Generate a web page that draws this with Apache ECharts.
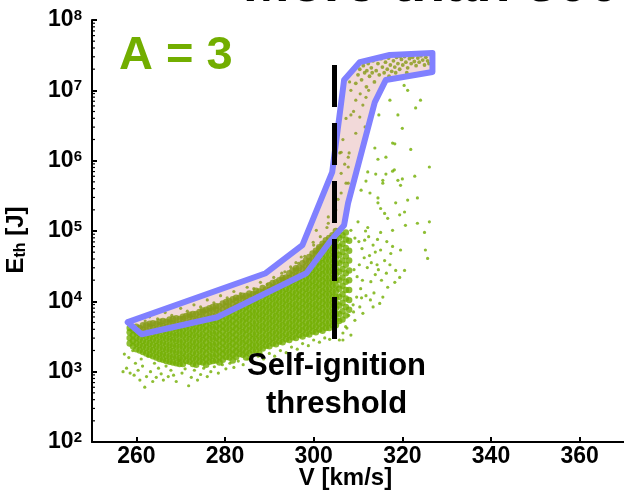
<!DOCTYPE html>
<html><head><meta charset="utf-8">
<script src="https://cdn.jsdelivr.net/npm/echarts/dist/echarts.min.js"></script>
<style>html,body{margin:0;padding:0;background:#fff}#c{width:624px;height:495px}</style>
</head><body><div id="c"></div>
<script>
// ---- tick labels / axes ----
const xTicks = [260, 280, 300, 320, 340, 360];
const minorMult = [2, 3, 4, 5, 6, 7, 8, 9];
const decades = [2, 3, 4, 5, 6, 7];

// ---- self-ignition threshold (dashed line) ----
const thresholdV = [304.7, 304.7];
const thresholdE = [2.29e7, 2.62e3];

// ---- envelope polygon ----
const envelopeV = [258.06, 289.18, 297.46, 304.18, 306.86, 310.44, 317.16, 326.79, 326.79, 316.26, 313.80, 307.76, 306.86, 303.95, 298.35, 278.21, 261.19];
const envelopeE = [5050, 25100, 62900, 6.87e5, 1.40e7, 2.52e7, 3.18e7, 3.39e7, 1.82e7, 1.40e7, 6.81e6, 2.49e5, 1.21e5, 74100, 25100, 5940, 3400];

// ---- runs: dense core [V, list of log10(E)] ----
const coreColsA = [
 [258.5,[3.40,3.48,3.56,3.62]],
 [260,[3.32,3.40,3.48,3.56,3.64]],
 [261.5,[3.28,3.36,3.44,3.52,3.60,3.66]],
 [263,[3.24,3.32,3.40,3.48,3.56,3.64,3.68]],
 [264.5,[3.20,3.28,3.36,3.44,3.52,3.60,3.68]],
 [266,[3.17,3.25,3.33,3.41,3.49,3.57,3.65,3.72]],
 [267.5,[3.14,3.22,3.30,3.38,3.46,3.54,3.62,3.70,3.74]],
 [269,[3.12,3.20,3.28,3.36,3.44,3.52,3.60,3.68,3.76]],
 [270.5,[3.11,3.19,3.27,3.35,3.43,3.51,3.59,3.67,3.75,3.78]],
 [272,[3.14,3.22,3.30,3.38,3.46,3.54,3.62,3.70,3.78,3.81]],
 [273.5,[3.10,3.18,3.26,3.34,3.42,3.50,3.58,3.66,3.74,3.82]],
 [275,[3.13,3.21,3.29,3.37,3.45,3.53,3.61,3.69,3.77,3.85,3.87]],
 [276.5,[3.14,3.22,3.30,3.38,3.46,3.54,3.62,3.70,3.78,3.86,3.90]],
 [278,[3.16,3.24,3.32,3.40,3.48,3.56,3.64,3.72,3.80,3.88,3.93]],
 [279.5,[3.17,3.25,3.33,3.41,3.49,3.57,3.65,3.73,3.81,3.89,3.97]],
 [281,[3.20,3.28,3.36,3.44,3.52,3.60,3.68,3.76,3.84,3.92,4.00]],
 [282.5,[3.21,3.29,3.37,3.45,3.53,3.61,3.69,3.77,3.85,3.93,4.01,4.05]],
 [284,[3.24,3.32,3.40,3.48,3.56,3.64,3.72,3.80,3.88,3.96,4.04,4.08]],
 [285.5,[3.26,3.34,3.42,3.50,3.58,3.66,3.74,3.82,3.90,3.98,4.06,4.11]],
 [287,[3.30,3.38,3.46,3.54,3.62,3.70,3.78,3.86,3.94,4.02,4.10,4.15]],
 [288.5,[3.33,3.41,3.49,3.57,3.65,3.73,3.81,3.89,3.97,4.05,4.13,4.19]],
 [290,[3.36,3.44,3.52,3.60,3.68,3.76,3.84,3.92,4.00,4.08,4.16,4.23]],
 [291.5,[3.39,3.47,3.55,3.63,3.71,3.79,3.87,3.95,4.03,4.11,4.19,4.27]],
 [293,[3.42,3.50,3.58,3.66,3.74,3.82,3.90,3.98,4.06,4.14,4.22,4.30,4.33]],
 [294.5,[3.45,3.53,3.61,3.69,3.77,3.85,3.93,4.01,4.09,4.17,4.25,4.33,4.40]],
 [296,[3.48,3.56,3.64,3.72,3.80,3.88,3.96,4.04,4.12,4.20,4.28,4.36,4.44,4.47]],
 [297.5,[3.50,3.58,3.66,3.74,3.82,3.90,3.98,4.06,4.14,4.22,4.30,4.38,4.46,4.54]],
 [299,[3.53,3.61,3.69,3.77,3.85,3.93,4.01,4.09,4.17,4.25,4.33,4.41,4.49,4.57,4.63]],
 [300.5,[3.56,3.64,3.72,3.80,3.88,3.96,4.04,4.12,4.20,4.28,4.36,4.44,4.52,4.60,4.68,4.72]],
 [302,[3.58,3.66,3.74,3.82,3.90,3.98,4.06,4.14,4.22,4.30,4.38,4.46,4.54,4.62,4.70,4.78,4.82]],
 [303.5,[3.62,3.70,3.78,3.86,3.94,4.02,4.10,4.18,4.26,4.34,4.42,4.50,4.58,4.66,4.74,4.82,4.90]],
 [305,[3.66,3.74,3.82,3.90,3.98,4.06,4.14,4.22,4.30,4.38,4.46,4.54,4.62,4.70,4.78,4.86,4.94,5.00]],
 [306.5,[3.74,3.86,3.98,4.10,4.22,4.34,4.46,4.58,4.70,4.82,4.94]],
 [308,[3.88,4.02,4.16,4.30,4.44,4.58,4.72,4.86]]
];
const coreColsB = [
 [259.25,[3.36,3.44,3.52,3.60]],
 [260.75,[3.30,3.38,3.46,3.54,3.62]],
 [262.25,[3.26,3.34,3.42,3.50,3.58,3.66]],
 [263.75,[3.22,3.30,3.38,3.46,3.54,3.62,3.69]],
 [265.25,[3.18,3.26,3.34,3.42,3.50,3.58,3.66,3.71]],
 [266.75,[3.15,3.23,3.31,3.39,3.47,3.55,3.63,3.71]],
 [268.25,[3.13,3.21,3.29,3.37,3.45,3.53,3.61,3.69,3.75]],
 [269.75,[3.11,3.19,3.27,3.35,3.43,3.51,3.59,3.67,3.75]],
 [271.25,[3.15,3.23,3.31,3.39,3.47,3.55,3.63,3.71,3.79]],
 [272.75,[3.11,3.19,3.27,3.35,3.43,3.51,3.59,3.67,3.75,3.82]],
 [274.25,[3.14,3.22,3.30,3.38,3.46,3.54,3.62,3.70,3.78,3.85]],
 [275.75,[3.10,3.18,3.26,3.34,3.42,3.50,3.58,3.66,3.74,3.82,3.88]],
 [277.25,[3.15,3.23,3.31,3.39,3.47,3.55,3.63,3.71,3.79,3.87,3.92]],
 [278.75,[3.13,3.21,3.29,3.37,3.45,3.53,3.61,3.69,3.77,3.85,3.93]],
 [280.25,[3.21,3.29,3.37,3.45,3.53,3.61,3.69,3.77,3.85,3.93,3.99]],
 [281.75,[3.16,3.24,3.32,3.40,3.48,3.56,3.64,3.72,3.80,3.88,3.96,4.03]],
 [283.25,[3.25,3.33,3.41,3.49,3.57,3.65,3.73,3.81,3.89,3.97,4.05]],
 [284.75,[3.20,3.28,3.36,3.44,3.52,3.60,3.68,3.76,3.84,3.92,4.00,4.08]],
 [286.25,[3.30,3.38,3.46,3.54,3.62,3.70,3.78,3.86,3.94,4.02,4.10]],
 [287.75,[3.26,3.34,3.42,3.50,3.58,3.66,3.74,3.82,3.90,3.98,4.06,4.14]],
 [289.25,[3.37,3.45,3.53,3.61,3.69,3.77,3.85,3.93,4.01,4.09,4.17]],
 [290.75,[3.40,3.48,3.56,3.64,3.72,3.80,3.88,3.96,4.04,4.12,4.20,4.26]],
 [292.25,[3.43,3.51,3.59,3.67,3.75,3.83,3.91,3.99,4.07,4.15,4.23,4.30]],
 [293.75,[3.46,3.54,3.62,3.70,3.78,3.86,3.94,4.02,4.10,4.18,4.26,4.34]],
 [295.25,[3.49,3.57,3.65,3.73,3.81,3.89,3.97,4.05,4.13,4.21,4.29,4.37,4.44]],
 [296.75,[3.52,3.60,3.68,3.76,3.84,3.92,4.00,4.08,4.16,4.24,4.32,4.40,4.48]],
 [298.25,[3.54,3.62,3.70,3.78,3.86,3.94,4.02,4.10,4.18,4.26,4.34,4.42,4.50,4.58]],
 [299.75,[3.57,3.65,3.73,3.81,3.89,3.97,4.05,4.13,4.21,4.29,4.37,4.45,4.53,4.61,4.68]],
 [301.25,[3.60,3.68,3.76,3.84,3.92,4.00,4.08,4.16,4.24,4.32,4.40,4.48,4.56,4.64,4.72,4.77]],
 [302.75,[3.62,3.70,3.78,3.86,3.94,4.02,4.10,4.18,4.26,4.34,4.42,4.50,4.58,4.66,4.74,4.82,4.87]],
 [304.25,[3.66,3.74,3.82,3.90,3.98,4.06,4.14,4.22,4.30,4.38,4.46,4.54,4.62,4.70,4.78,4.86,4.94]],
 [305.75,[3.72,3.82,3.94,4.06,4.18,4.30,4.42,4.54,4.66,4.78,4.90,5.00]],
 [307.25,[3.80,3.92,4.04,4.16,4.28,4.40,4.52,4.64,4.76,4.88,4.98]]
];

// ---- runs: sparse points [V, log10(E)] ----
const lowerFringe = [
 [257.0,3.00],[257.3,3.25],[257.8,3.05],[258.3,3.20],[258.6,2.98],[259.2,3.30],[259.5,2.95],[259.8,3.12],[260.4,3.02],[260.8,2.88],
 [261.1,3.18],[261.4,3.08],[261.9,2.78],[262.3,2.93],[262.6,3.22],[263.2,3.00],[263.7,2.86],[264.1,3.12],[264.5,2.92],[265.0,3.05],
 [265.6,2.97],[266.1,2.88],[266.7,3.08],[267.2,2.93],[267.8,3.02],[268.4,2.95],[269.0,2.86],[269.7,3.16],[270.3,2.98],[271.0,3.04],
 [271.8,2.80],[272.4,2.92],[273.1,3.02],[273.8,2.88],[274.5,2.96],[275.2,3.05],[276.0,2.93],[276.8,3.00],[277.6,3.07],[278.5,2.98],
 [279.4,3.10],[280.2,3.04],[281.1,3.12],[282.0,3.06],[283.0,3.15],[284.1,3.10],[285.2,3.18],[286.3,3.14],[287.5,3.22],[288.7,3.18],
 [290.0,3.26],[291.2,3.22],[292.5,3.30],[293.8,3.27],[295.0,3.35],[296.3,3.32],[297.5,3.40],[298.8,3.37],[300.0,3.45],[301.3,3.42],
 [302.5,3.48],[303.6,3.46],[305.8,3.45],[306.6,3.55],[307.5,3.62],[307.2,3.64],[307.9,3.80],[309.0,3.85],[308.9,3.95],[310.4,3.92]
];
const rightScatter = [
 [320.4,7.07],[321.2,7.00],[324.1,6.86],[323.0,6.75],[319.0,6.65],[317.2,6.86],[314.7,6.65],[320.0,6.46],[317.8,6.25],[321.9,6.16],
 [326.1,5.91],[322.8,5.78],[316.3,5.81],[314.0,5.81],[312.2,5.84],[317.8,5.85],[314.5,6.02],[316.3,6.05],[313.8,6.18],[318.3,6.24],
 [315.6,5.72],[319.0,5.72],[319.6,5.65],[312.7,5.54],[323.4,5.47],[321.2,5.44],[314.5,5.47],[310.7,5.58],[311.8,5.71],[315.6,5.68],
 [318.2,5.87],[320.0,5.74],[318.5,5.40],[314.5,5.40],[315.1,5.32],[316.0,5.25],[320.5,5.27],[319.4,5.23],[316.7,5.18],[326.1,5.13],
 [323.4,5.11],[325.0,4.98],[320.7,5.08],[317.8,5.01],[315.1,4.98],[312.2,5.05],[310.0,5.13],[308.4,5.01],[309.3,4.90],[311.5,4.87],
 [313.4,4.80],[315.1,4.73],[317.4,4.68],[319.6,4.73],[325.2,4.73],[325.7,4.61],[320.5,4.44],[318.5,4.44],[319.4,4.34],[318.3,4.27],
 [316.7,4.20],[315.6,4.06],[314.9,3.97],[313.4,3.92],[311.1,3.83],[309.3,3.73],[308.4,3.52],[306.6,3.45],
 [309.8,4.35],[310.6,4.18],[311.4,4.62],[312.1,4.48],[312.9,4.28],[313.6,4.12],[314.3,4.52],[310.3,4.52],[309.1,4.45],[311.0,4.30],
 [312.6,4.65],[313.9,4.38],[310.9,4.75],[309.7,4.06],[311.8,4.08],[313.0,4.55],[314.6,4.45],[316.0,4.58],[315.3,4.30],[316.4,4.40],
 [317.2,4.52],[312.4,4.92],[311.7,5.00],[310.2,4.85],[313.9,4.70],[314.4,4.88],[316.5,4.85],[317.8,4.78],[310.8,4.05],[312.8,4.02]
];
const bandScatter = [
 [262.0,3.72],[263.0,3.78],[264.8,3.75],[266.5,3.84],[268.0,3.80],[270.0,3.90],[271.5,3.86],[273.0,3.95],[274.5,3.92],[276.0,4.02],
 [277.5,3.98],[279.0,4.08],[280.5,4.05],[282.0,4.14],[283.5,4.11],[285.0,4.20],[286.5,4.18],[288.0,4.27],[289.5,4.24],[291.0,4.34],
 [293.5,4.42],[296.0,4.55],[298.0,4.64],[300.0,4.80],[301.5,4.92],[303.0,5.05],[292.8,4.40],[294.8,4.49],[296.6,4.54],[297.2,4.63],
 [301.0,4.77],[299.9,4.84],[300.6,5.01],[303.3,5.11],[303.3,5.20],[305.0,5.30],[305.5,5.45],[306.2,5.54],[307.3,5.68],[307.8,5.68],
 [306.2,5.82],[307.8,5.91],[307.0,5.95],[307.8,6.05],[305.9,6.11],[306.2,6.12],[308.0,6.11],[306.6,6.30],[309.5,6.39],[311.6,6.48],
 [307.3,6.60],[310.4,6.62],[308.4,6.65],[309.0,6.70],[311.1,6.79],[309.5,6.86],[311.8,6.90],[310.5,6.95],[308.4,7.00],[312.4,7.00],
 [308.1,7.12]
];
const topCluster = [
 [309.5,7.10],[310.0,7.22],[310.4,7.30],[310.8,7.15],[311.2,7.35],[311.5,7.25],[311.9,7.05],[312.3,7.38],[312.6,7.20],[313.0,7.32],
 [313.4,7.42],[313.7,7.12],[314.1,7.28],[314.5,7.38],[314.8,7.22],[315.2,7.45],[315.5,7.33],[315.9,7.25],[316.2,7.40],[316.6,7.30],
 [316.9,7.46],[317.3,7.36],[317.6,7.27],[318.0,7.42],[318.3,7.33],[318.7,7.47],[319.0,7.38],[319.4,7.30],[319.8,7.44],[320.1,7.36],
 [320.5,7.48],[320.8,7.40],[321.2,7.32],[321.6,7.45],[322.0,7.38],[322.3,7.47],[322.7,7.41],[323.1,7.35],[323.5,7.46],[323.8,7.40],
 [324.2,7.49],[324.6,7.43],[325.0,7.36],[325.3,7.47],[325.7,7.42],[326.0,7.38],[312.0,7.28],[314.0,7.45],[317.0,7.20],[318.5,7.25],
 [321.0,7.25],[319.5,7.48],[316.0,7.48],[313.2,7.25]
];

// ---- build ----
const FONT = '"Liberation Sans", Arial, sans-serif';
const GREEN = '#72ae00';
const toE = p => [p[0], Math.pow(10, p[1])];
const coreData = [];
coreColsA.concat(coreColsB).forEach(c => c[1].forEach(l => coreData.push([c[0], Math.pow(10, l)])));
const sparseData = lowerFringe.concat(rightScatter, bandScatter).map(toE);
const topData = topCluster.map(toE);
const minorData = [];
decades.forEach(d => minorMult.forEach(m => minorData.push([250, m * Math.pow(10, d)])));

const chart = echarts.init(document.getElementById('c'), null, {renderer: 'canvas'});
chart.setOption({
  animation: false,
  backgroundColor: '#fff',
  grid: {left: 92, top: 20, width: 536, bottom: 53},
  xAxis: {
    type: 'value', min: 250, max: 370, interval: 10,
    axisLine: {lineStyle: {color: '#000', width: 2}},
    axisTick: {inside: true, length: 5, customValues: xTicks, lineStyle: {color: '#000', width: 2}},
    axisLabel: {
      margin: 3, color: '#000', fontSize: 23, fontWeight: 'bold', fontFamily: FONT,
      customValues: xTicks,
      formatter: v => xTicks.indexOf(v) >= 0 ? String(v) : ''
    },
    splitLine: {show: false}
  },
  yAxis: {
    type: 'log', logBase: 10, min: 100, max: 1e8, splitNumber: 6,
    axisLine: {lineStyle: {color: '#000', width: 2}},
    axisTick: {inside: true, length: 5, lineStyle: {color: '#000', width: 2}},
    axisLabel: {
      margin: 10,
      formatter: v => '{b|10}{s|' + Math.round(Math.log10(v)) + '}',
      rich: {
        b: {fontSize: 23, fontWeight: 'bold', fontFamily: FONT, color: '#000', lineHeight: 23, verticalAlign: 'bottom'},
        s: {fontSize: 15, fontWeight: 'bold', fontFamily: FONT, color: '#000', lineHeight: 15, padding: [0, 0, 11, 0], verticalAlign: 'top'}
      }
    },
    splitLine: {show: false}
  },
  series: [
    {type: 'scatter', data: coreData, symbolSize: 6.5, itemStyle: {color: GREEN}, silent: true, z: 2, large: false},
    {type: 'scatter', data: sparseData, symbolSize: 3.2, itemStyle: {color: GREEN}, silent: true, z: 2},
    {type: 'scatter', data: topData, symbolSize: 3.8, itemStyle: {color: GREEN}, silent: true, z: 2},
    {
      type: 'custom', silent: true, z: 3, data: [[300, 1000]],
      renderItem: (params, api) => {
        const pts = envelopeV.map((v, i) => api.coord([v, envelopeE[i]]));
        return {type: 'polygon', shape: {points: pts},
          style: {fill: 'rgba(200,98,98,0.24)', stroke: '#8080ff', lineWidth: 6, lineJoin: 'round'}};
      }
    },
    {
      type: 'line', silent: true, z: 4, symbol: 'none',
      data: thresholdV.map((v, i) => [v, thresholdE[i]]),
      lineStyle: {color: '#000', width: 5, type: [42, 16], cap: 'butt'}
    },
    {
      type: 'custom', silent: true, z: 5, data: minorData,
      renderItem: (params, api) => {
        const p = api.coord([api.value(0), api.value(1)]);
        return {type: 'line', shape: {x1: p[0], y1: p[1], x2: p[0] + 3, y2: p[1]},
          style: {stroke: '#000', lineWidth: 1.2}};
      }
    }
  ],
  graphic: [
    {type: 'text', x: 243, y: -14.5, z: 10, style: {text: 'More than 3000 runs', fontSize: 56, fontWeight: 'bold', fontFamily: FONT, fill: '#000', align: 'left', verticalAlign: 'middle'}},
    {type: 'text', x: 119, y: 55.6, z: 10, style: {text: 'A = 3', fontSize: 47, fontWeight: 'bold', fontFamily: FONT, fill: GREEN, align: 'left', verticalAlign: 'middle'}},
    {type: 'text', x: 336.5, y: 366, z: 10, style: {text: 'Self-ignition', fontSize: 31, fontWeight: 'bold', fontFamily: FONT, fill: '#000', align: 'center', verticalAlign: 'middle'}},
    {type: 'text', x: 336.5, y: 404, z: 10, style: {text: 'threshold', fontSize: 31, fontWeight: 'bold', fontFamily: FONT, fill: '#000', align: 'center', verticalAlign: 'middle'}},
    {type: 'text', x: 345.5, y: 478.5, z: 10, style: {text: 'V [km/s]', fontSize: 24, fontWeight: 'bold', fontFamily: FONT, fill: '#000', align: 'center', verticalAlign: 'middle'}},
    {type: 'text', x: 16.6, y: 240, rotation: Math.PI / 2, z: 10, style: {
      text: '{e|E}{t|th}{e| [J]}', align: 'center', verticalAlign: 'middle',
      rich: {
        e: {fontSize: 24, fontWeight: 'bold', fontFamily: FONT, fill: '#000', lineHeight: 24, verticalAlign: 'bottom'},
        t: {fontSize: 16, fontWeight: 'bold', fontFamily: FONT, fill: '#000', lineHeight: 16, verticalAlign: 'bottom'}
      }
    }}
  ]
});
</script>
</body></html>
